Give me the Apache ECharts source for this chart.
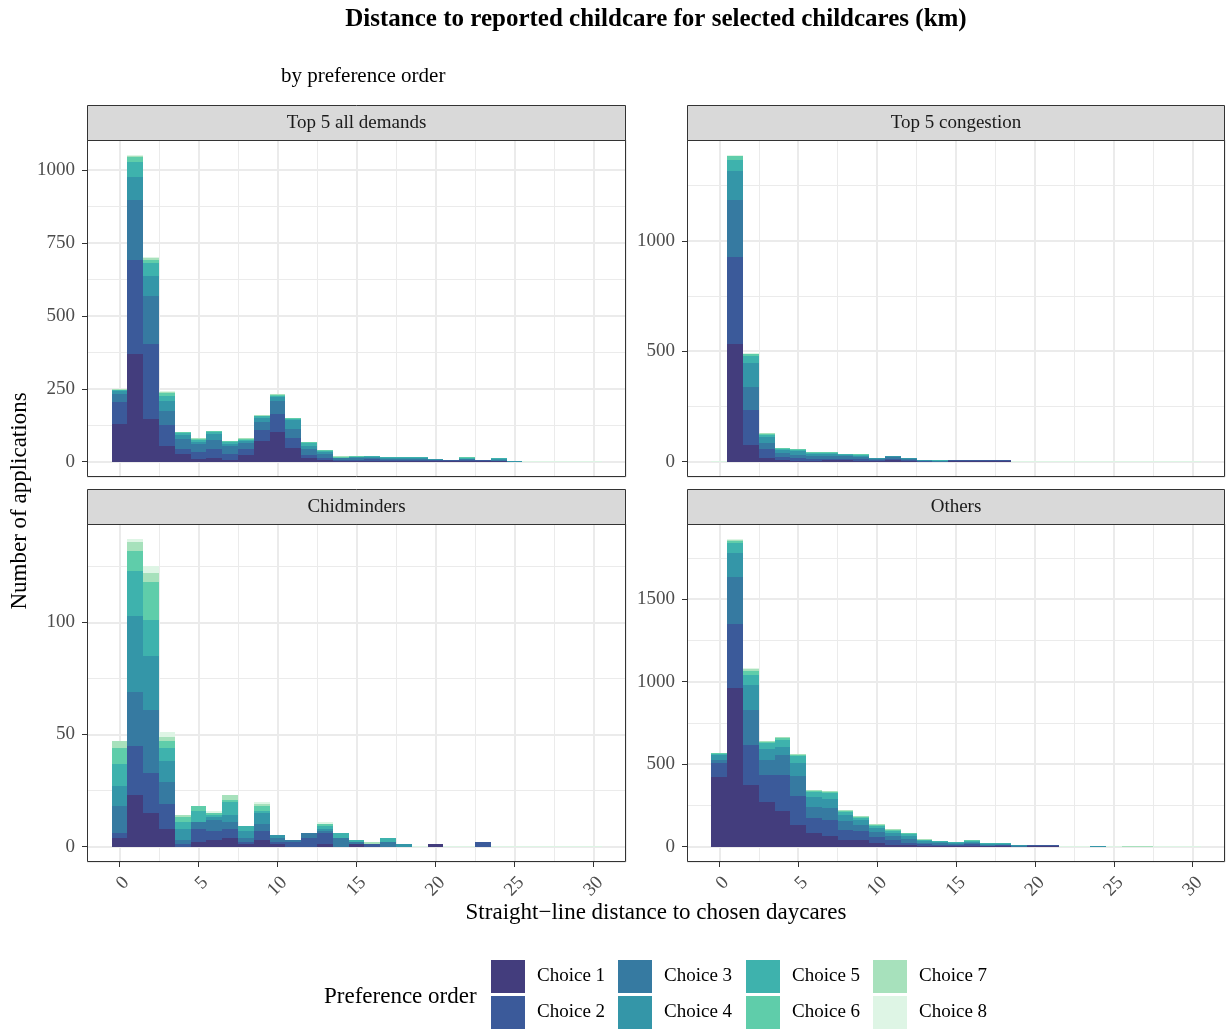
<!DOCTYPE html>
<html><head><meta charset="utf-8">
<script src="https://cdn.jsdelivr.net/npm/echarts@6/dist/echarts.min.js"></script>
<style>html,body{margin:0;padding:0;background:#fff}#c{width:1228px;height:1030px}</style>
</head><body><div id="c"></div>
<script>
// ---------- data ----------
const distanceBins = [0,1,2,3,4,5,6,7,8,9,10,11,12,13,14,15,16,17,18,19,20,21,22,23,24,25,26,27,28,29,30];
const choiceNames = ['Choice 1','Choice 2','Choice 3','Choice 4','Choice 5','Choice 6','Choice 7','Choice 8'];
const panelTitles = ['Top 5 all demands','Top 5 congestion','Chidminders','Others'];
const xTickValues = [0,5,10,15,20,25,30];
const yTickValues1 = [0,250,500,750,1000];
const yTickValues2 = [0,500,1000];
const yTickValues3 = [0,50,100];
const yTickValues4 = [0,500,1000,1500];

// rows: Choice 1..8, columns: distance bins 0..30
const top5AllDemands = [
 [130,369,147,55,27,10,14,7,24,72,102,48,14,7,4,3,3,3,3,3,2,2,2,2,2,0,0,0,0,0,0],
 [75,324,256,71,17,24,30,20,20,37,62,34,10,7,3,4,5,4,4,3,3,2,3,2,2,0,0,0,0,0,0],
 [26,205,164,48,34,27,31,28,21,28,44,31,20,13,4,6,6,3,3,3,2,0,3,0,2,0,0,0,0,0,0],
 [10,78,71,34,14,7,21,6,7,13,14,30,11,6,2,3,3,1,1,2,1,0,2,0,2,4,0,0,0,0,0],
 [4,51,45,18,7,5,6,5,4,5,3,4,10,2,1,1,1,1,1,1,0,0,1,0,1,0,0,0,0,0,0],
 [2,17,10,11,4,4,1,3,3,2,3,3,2,1,1,1,0,0,0,0,0,0,1,0,0,0,0,0,0,0,0],
 [1,5,5,3,0,2,0,0,1,1,1,0,0,0,1,0,0,0,0,0,0,0,0,0,0,0,0,0,0,0,0],
 [0,2,4,1,0,0,0,0,0,0,0,0,0,0,0,0,0,0,0,0,0,0,0,0,0,0,3,3,3,3,3]
];
const top5Congestion = [
 [0,532,77,18,9,5,4,6,6,5,3,6,3,0,0,2,2,2,2,0,0,0,0,0,0,0,0,0,0,0,0],
 [0,396,157,41,14,13,10,8,8,6,4,6,4,2,0,3,3,3,3,0,0,0,0,0,0,0,0,0,0,0,0],
 [0,257,104,27,18,14,12,12,10,8,4,7,4,2,2,0,0,0,0,0,0,0,0,0,0,0,0,0,0,0,0],
 [0,130,108,27,13,15,10,9,7,6,4,1,3,2,3,0,0,0,0,0,0,0,0,0,0,0,0,0,0,0,0],
 [0,50,31,9,5,4,5,3,2,3,0,0,0,0,1,0,0,0,0,0,0,0,0,0,0,0,0,0,0,0,0],
 [0,18,9,4,3,1,1,1,0,1,0,0,0,0,0,0,0,0,0,0,0,0,0,0,0,0,0,0,0,0,0],
 [0,3,3,1,0,0,0,0,0,0,0,0,0,0,0,0,0,0,0,0,0,0,0,0,0,0,0,0,0,0,0],
 [4,1,2,0,0,0,0,0,0,0,0,0,0,0,0,0,0,0,0,4,4,4,4,4,4,4,4,4,4,4,4]
];
const childminders = [
 [4,23,15,8,0,2,3,4,1,3,1,0,0,1,0,1,0,0,0,0,1,0,0,0,0,0,0,0,0,0,0],
 [2,22,18,11,1,6,4,4,1,4,1,2,4,5,0,0,1,0,0,0,0,0,0,2,0,0,0,0,0,0,0],
 [12,24,28,10,2,3,5,3,2,3,2,1,2,1,4,1,0,2,0,0,0,0,0,0,0,0,0,0,0,0,0],
 [9,34,24,9,5,0,1,3,3,5,1,0,0,1,0,0,0,0,1,0,0,0,0,0,0,0,0,0,0,0,0],
 [10,20,16,6,3,5,1,6,2,1,0,0,0,1,2,1,0,2,0,0,0,0,0,0,0,0,0,0,0,0,0],
 [7,9,17,3,2,2,1,1,0,2,0,0,0,1,0,0,0,0,0,0,0,0,0,0,0,0,0,0,0,0,0],
 [3,4,4,2,1,0,0,2,0,1,0,0,0,0,0,0,1,0,0,0,0,0,0,0,0,0,0,0,0,0,0],
 [0,1,3,2,0,0,1,0,0,1,0,0,0,1,0,0,0,0,0,0.4,0,0.4,0.4,0,0.4,0.4,0.4,0.4,0.4,0.4,0.4]
];
const others = [
 [425,960,376,273,213,134,85,67,43,43,24,12,8,4,3,3,4,2,4,0,1,1,0,0,0,0,0,0,0,0,0],
 [79,388,237,164,224,170,91,97,60,54,37,31,16,10,9,8,10,4,4,0,4,4,0,0,0,0,0,0,0,0,0],
 [18,286,213,85,116,127,67,73,55,37,30,24,25,10,10,8,10,4,3,2,0,0,0,0,0,0,0,0,0,0,0],
 [31,145,152,67,48,73,55,54,36,26,22,18,14,8,5,5,6,3,2,4,0,0,0,0,5,0,0,0,0,0,0],
 [6,61,60,36,47,43,36,35,14,12,15,10,12,6,1,2,3,1,1,0,0,0,0,0,0,0,0,0,0,0,0],
 [4,12,25,11,10,10,6,8,6,5,5,6,6,3,0,0,1,0,0,0,0,0,0,0,0,0,0,0,0,0,0],
 [0,8,12,3,2,4,2,3,3,3,3,4,0,1,0,0,0,0,0,0,0,0,0,0,0,0,5,5,0,0,0],
 [0,2,3,0,0,0,0,0,0,0,0,0,0,0,0,0,0,0,0,0,0,0,6,6,0,6,0,0,6,6,6]
];

// ---------- styling / layout ----------
const choiceColors = ['#433D7D','#3B5A9A','#367AA1','#3496A8','#3EB2AD','#5FCDAA','#A7E1BC','#DEF5E5'];
const FONT = "'Liberation Serif', 'Times New Roman', serif";
const panels = [top5AllDemands, top5Congestion, childminders, others];
const yTicks = [yTickValues1, yTickValues2, yTickValues3, yTickValues4];
const yMajorSteps = [250, 500, 50, 500];
const gridRects = [
  {left: 87, top: 140, width: 539, height: 337},
  {left: 687, top: 140, width: 538, height: 337},
  {left: 87, top: 524, width: 539, height: 338},
  {left: 687, top: 524, width: 538, height: 338}
];
const xMin = -2.05, xMax = 32.05;
const BIN_HALF = 0.5;

const grids = [], xAxes = [], yAxes = [], series = [], graphics = [];

function makeRenderer(color) {
  return function (params, api) {
    const x = api.value(0), y0 = api.value(1), y1 = api.value(2);
    if (!(y1 > y0)) return null;
    const a = api.coord([x - BIN_HALF, y0]);
    const b = api.coord([x + BIN_HALF, y1]);
    const left = Math.round(a[0]), right = Math.round(b[0]);
    const bottom = Math.round(a[1]);
    let top = Math.round(b[1]);
    if (top >= bottom) top = bottom - 1;
    return {type: 'rect', shape: {x: left, y: top, width: right - left, height: bottom - top},
      style: {fill: color}};
  };
}

panels.forEach((rows, p) => {
  const g = gridRects[p];
  const bottomRow = p >= 2;
  grids.push({left: g.left, top: g.top, width: g.width, height: g.height, show: true,
    backgroundColor: '#ffffff', borderWidth: 0, containLabel: false, outerBoundsMode: 'none'});

  // cumulative stacks per bin
  const cum = distanceBins.map(() => 0);
  const stacks = rows.map(r => distanceBins.map((b, i) => {
    const y0 = cum[i]; cum[i] += r[i]; return [b, y0, cum[i]];
  }));
  const M = Math.max.apply(null, cum);
  const yMin = -0.05 * M, yMax = 1.05 * M;
  const st = yMajorSteps[p];

  xAxes.push({
    type: 'value', gridIndex: p, position: 'bottom', min: xMin, max: xMax,
    minInterval: 5, maxInterval: 5,
    axisLine: {show: false, onZero: false},
    axisTick: {show: bottomRow, length: 5, lineStyle: {color: '#333333', width: 1}, customValues: xTickValues},
    axisLabel: {show: bottomRow, customValues: xTickValues,
      rotate: 45, align: 'right', verticalAlign: 'top', margin: 11,
      color: '#4d4d4d', fontSize: 19, fontFamily: FONT, formatter: v => String(v)},
    splitLine: {show: true, lineStyle: {color: '#ebebeb', width: 2}}
  });
  xAxes.push({
    type: 'value', gridIndex: p, position: 'top', min: xMin + 2.5, max: xMax + 2.5,
    minInterval: 5, maxInterval: 5,
    axisLine: {show: false, onZero: false}, axisTick: {show: false}, axisLabel: {show: false},
    splitLine: {show: true, lineStyle: {color: '#ebebeb', width: 1}}
  });
  yAxes.push({
    type: 'value', gridIndex: p, position: 'left', min: yMin, max: yMax,
    minInterval: st, maxInterval: st,
    axisLine: {show: false, onZero: false},
    axisTick: {show: true, length: 5, lineStyle: {color: '#333333', width: 1}, customValues: yTicks[p]},
    axisLabel: {show: true, customValues: yTicks[p],
      margin: 12, color: '#4d4d4d', fontSize: 19, fontFamily: FONT, formatter: v => String(v)},
    splitLine: {show: true, lineStyle: {color: '#ebebeb', width: 2}}
  });
  yAxes.push({
    type: 'value', gridIndex: p, position: 'right', min: yMin + st / 2, max: yMax + st / 2,
    minInterval: st, maxInterval: st,
    axisLine: {show: false, onZero: false}, axisTick: {show: false}, axisLabel: {show: false},
    splitLine: {show: true, lineStyle: {color: '#ebebeb', width: 1}}
  });

  stacks.forEach((data, c) => {
    series.push({
      type: 'custom', name: choiceNames[c], coordinateSystem: 'cartesian2d',
      xAxisIndex: 2 * p, yAxisIndex: 2 * p, silent: true,
      itemStyle: {color: choiceColors[c]},
      encode: {x: 0, y: [1, 2]},
      renderItem: makeRenderer(choiceColors[c]),
      data: data
    });
  });

  // strip
  graphics.push({type: 'rect', z: 50, shape: {x: g.left + 0.5, y: g.top - 35 + 0.5, width: g.width - 1, height: 35},
    style: {fill: '#d9d9d9', stroke: '#333333', lineWidth: 1}});
  graphics.push({type: 'text', z: 51, x: g.left + g.width / 2, y: g.top - 16.5,
    style: {text: panelTitles[p], font: '19px ' + FONT, fill: '#1a1a1a',
      textAlign: 'center', textVerticalAlign: 'middle', align: 'center', verticalAlign: 'middle'}});
  // panel border
  graphics.push({type: 'rect', z: 50, shape: {x: g.left + 0.5, y: g.top + 0.5, width: g.width - 1, height: g.height - 1},
    style: {fill: 'none', stroke: '#333333', lineWidth: 1}});
});

function txt(text, x, y, size, opts) {
  opts = opts || {};
  return {type: 'text', z: 60, x: x, y: y, rotation: opts.rotation || 0,
    style: {text: text, font: (opts.bold ? 'bold ' : '') + size + 'px ' + FONT, fill: '#000000',
      textAlign: opts.align || 'center', align: opts.align || 'center',
      textVerticalAlign: 'middle', verticalAlign: 'middle'}};
}
graphics.push(txt('Distance to reported childcare for selected childcares (km)', 656, 20, 25, {bold: true}));
graphics.push(txt('by preference order', 281, 76, 21, {align: 'left'}));
graphics.push(txt('Straight\u2212line distance to chosen daycares', 656, 913, 23));
graphics.push(txt('Number of applications', 20, 501, 23, {rotation: Math.PI / 2}));
graphics.push(txt('Preference order', 324, 997, 23, {align: 'left'}));

const legendCols = [491, 618, 746, 873];
const legends = legendCols.map((left, k) => ({
  data: [choiceNames[2 * k], choiceNames[2 * k + 1]],
  orient: 'vertical', left: left, top: 960, padding: 0,
  itemWidth: 34, itemHeight: 33, itemGap: 3, icon: 'rect', selectedMode: false,
  textStyle: {fontSize: 19, fontFamily: FONT, color: '#000000', padding: [2, 0, 0, 7]}
}));

const chart = echarts.init(document.getElementById('c'), null, {renderer: 'canvas'});
chart.setOption({
  animation: false,
  backgroundColor: '#ffffff',
  grid: grids, xAxis: xAxes, yAxis: yAxes,
  legend: legends,
  series: series,
  graphic: {elements: graphics}
});
</script></body></html>
